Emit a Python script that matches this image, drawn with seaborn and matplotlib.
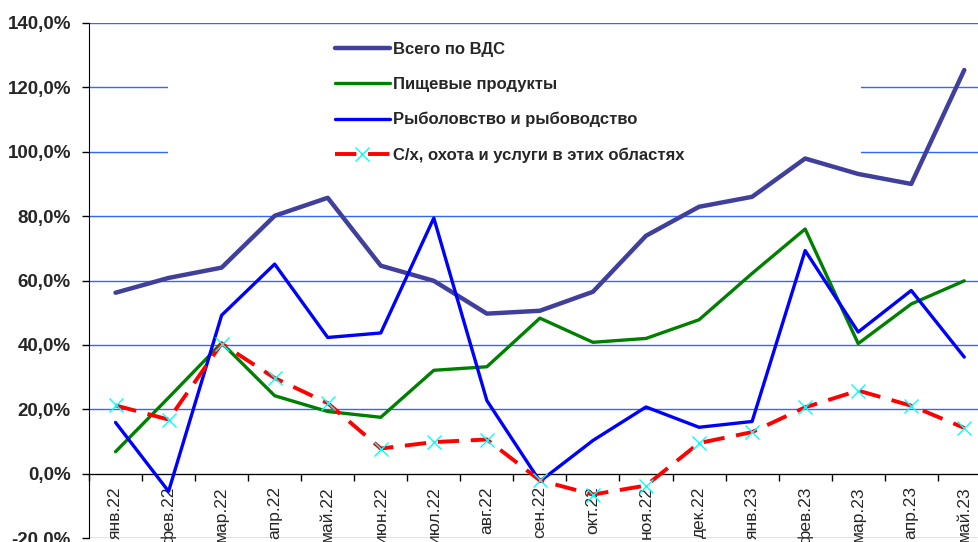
import numpy as np
import pandas as pd
import matplotlib
matplotlib.use("Agg")
import matplotlib.pyplot as plt
import seaborn as sns
from matplotlib.patches import Rectangle
from matplotlib.ticker import FuncFormatter, MultipleLocator

months = ["янв.22", "фев.22", "мар.22", "апр.22", "май.22", "июн.22", "июл.22",
          "авг.22", "сен.22", "окт.22", "ноя.22", "дек.22", "янв.23", "фев.23",
          "мар.23", "апр.23", "май.23"]

vds = [56.2, 60.8, 64.0, 80.1, 85.7, 64.6, 59.9, 49.7, 50.6, 56.5, 73.9, 82.9,
       86.0, 97.9, 93.1, 90.0, 125.4]
food = [6.8, 23.6, 40.6, 24.2, 19.3, 17.5, 32.1, 33.2, 48.3, 40.8, 42.0, 47.8,
        62.2, 76.0, 40.4, 52.7, 59.9]
fish = [15.9, -5.5, 49.2, 65.1, 42.3, 43.7, 79.4, 22.7, -2.4, 10.3, 20.7, 14.4,
        16.2, 69.3, 44.0, 56.9, 36.2]
agro = [21.2, 16.8, 40.4, 29.7, 21.9, 7.8, 9.8, 10.6, -2.1, -6.5, -3.7, 9.5,
        12.9, 20.6, 25.8, 21.1, 14.2]

labels = ["Всего по ВДС", "Пищевые продукты", "Рыболовство и рыбоводство",
          "С/х, охота и услуги в этих областях"]

df = pd.DataFrame({"pos": np.arange(len(months)), "vds": vds, "food": food,
                   "fish": fish, "agro": agro})

sns.set_style("white")
plt.rcParams['font.family'] = ['Liberation Sans', 'DejaVu Sans']

fig = plt.figure(figsize=(9.79, 5.42), dpi=100)
ax = fig.add_axes([89/979, 4/542, 901.8/979, 515/542])

sns.lineplot(x="pos", y="vds", data=df, ax=ax, color="#40409C", linewidth=3.2,
             label=labels[0], sort=False, zorder=3)
sns.lineplot(x="pos", y="food", data=df, ax=ax, color="#008000", linewidth=2.4,
             label=labels[1], sort=False, zorder=3)
sns.lineplot(x="pos", y="fish", data=df, ax=ax, color="#0000FF", linewidth=2.4,
             label=labels[2], sort=False, zorder=3)
sns.lineplot(x="pos", y="agro", data=df, ax=ax, color="#FF0000", linewidth=2.8,
             label=labels[3], sort=False, zorder=3, marker="x", markersize=10,
             markeredgecolor="#00FFFF", markeredgewidth=1.0)
ax.lines[-1].set_dashes([5.5, 3])

ax.set_xlim(-0.5, len(months) - 0.5)
ax.set_ylim(-20, 140)

# grid
ax.yaxis.set_major_locator(MultipleLocator(20))
ax.grid(axis="y", color="#3366FF", linewidth=1.0)
ax.grid(axis="x", visible=False)
ax.set_axisbelow(True)

# white box behind legend, covering grid lines
ax.add_patch(Rectangle((0.0876, 0.705), 0.768, 0.28, transform=ax.transAxes,
                       facecolor="white", edgecolor="none", zorder=1))

ax.yaxis.set_major_formatter(FuncFormatter(lambda v, p: f"{v:.1f}%".replace(".", ",")))
ax.tick_params(axis="y", labelsize=13.5, length=5, width=1, color="black",
               direction="out", left=True, pad=8)
for t in ax.get_yticklabels():
    t.set_fontweight("bold")

ax.spines["bottom"].set_position(("data", 0))
ax.spines["top"].set_visible(False)
ax.spines["right"].set_visible(False)
ax.spines["left"].set_color("black")
ax.spines["bottom"].set_color("black")

ax.set_xticks(df["pos"])
ax.set_xticklabels(months, rotation=90, va="top", ha="center")
ax.set_xticks(np.arange(len(months) + 1) - 0.5, minor=True)
ax.tick_params(axis="x", which="major", length=0, labelsize=12.5, pad=9)
ax.tick_params(axis="x", which="minor", length=5, width=1, color="black",
               direction="out", bottom=True)
ax.set_xlabel("")
ax.set_ylabel("")

leg = ax.legend(loc="upper left", bbox_to_anchor=(335/979, 1 - 42/542),
                bbox_transform=fig.transFigure, frameon=False,
                prop={"weight": "bold", "size": 12}, handlelength=3.3,
                handletextpad=0.2, labelspacing=1.2, borderpad=0,
                borderaxespad=0)

fig.savefig("out.png", dpi=100)
